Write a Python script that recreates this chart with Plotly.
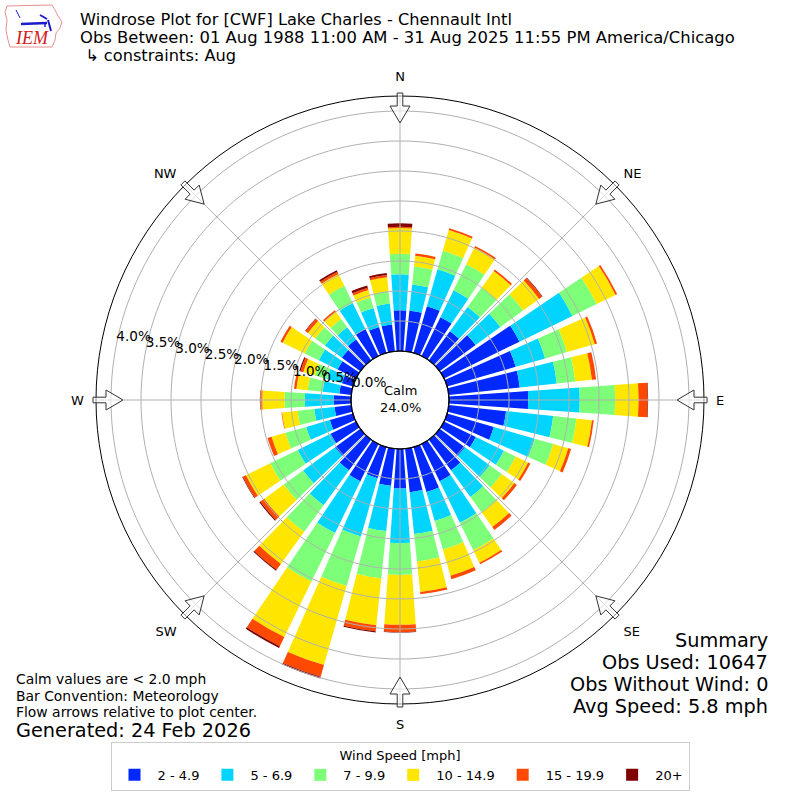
import math
import plotly.graph_objects as go

# wind directions (deg, meteorological) and percent frequency per speed bin
DIRS = list(range(0, 360, 10))
BIN_LABELS = ["2 - 4.9", "5 - 6.9", "7 - 9.9", "10 - 14.9", "15 - 19.9", "20+"]
BIN_COLORS = ["#0028ff", "#00d4ff", "#7dff7a", "#ffe600", "#ff4800", "#800000"]

S_2_5 = [0.68, 0.68, 0.81, 0.72, 0.60, 0.74, 1.40, 1.19, 1.19, 1.32, 0.96, 0.81,
         0.59, 0.52, 0.63, 0.69, 0.78, 0.73, 0.66, 0.62, 0.54, 0.69, 0.63, 0.52,
         0.47, 0.40, 0.28, 0.29, 0.20, 0.19, 0.34, 0.38, 0.43, 0.50, 0.45, 0.45]
S_5_7 = [0.60, 0.44, 0.64, 0.50, 0.50, 0.51, 0.98, 0.51, 0.62, 0.86, 0.79, 0.71,
         0.52, 0.51, 0.55, 0.77, 0.50, 0.70, 0.91, 0.76, 1.01, 0.96, 0.72, 0.66,
         0.61, 0.41, 0.34, 0.48, 0.28, 0.26, 0.35, 0.35, 0.25, 0.48, 0.33, 0.35]
S_7_10 = [0.34, 0.30, 0.32, 0.48, 0.40, 0.47, 0.45, 0.38, 0.31, 0.59, 0.39, 0.32,
          0.22, 0.25, 0.32, 0.51, 0.50, 0.46, 0.53, 0.79, 0.86, 0.90, 0.55, 0.40,
          0.51, 0.36, 0.28, 0.34, 0.25, 0.21, 0.26, 0.20, 0.17, 0.32, 0.18, 0.20]
S_10_15 = [0.43, 0.18, 0.36, 0.31, 0.34, 0.33, 0.35, 0.48, 0.28, 0.39, 0.26, 0.26,
           0.23, 0.26, 0.30, 0.23, 0.45, 0.51, 0.83, 0.79, 1.37, 1.03, 0.66, 0.40,
           0.45, 0.24, 0.26, 0.37, 0.19, 0.20, 0.41, 0.15, 0.15, 0.22, 0.13, 0.24]
S_15_20 = [0.02, 0.04, 0.03, 0.03, 0.03, 0.06, 0.03, 0.04, 0.07, 0.15, 0.03, 0.05,
           0.04, 0.05, 0.06, 0.03, 0.06, 0.04, 0.12, 0.10, 0.20, 0.17, 0.12, 0.08,
           0.06, 0.07, 0.01, 0.04, 0.04, 0.05, 0.04, 0.05, 0.03, 0.04, 0.04, 0.04]
S_20P = [0.06, 0, 0, 0, 0, 0.01, 0, 0, 0, 0.01, 0, 0,
         0, 0, 0, 0, 0, 0, 0.01, 0.02, 0.03, 0.03, 0.02, 0.02,
         0.01, 0, 0, 0, 0, 0.02, 0, 0.01, 0, 0.03, 0.04, 0.03]
SERIES = [S_2_5, S_5_7, S_7_10, S_10_15, S_15_20, S_20P]

RTICKS = [0.0, 0.5, 1.0, 1.5, 2.0, 2.5, 3.0, 3.5, 4.0]
RLABEL_DIR = 281  # compass direction of the radial tick labels
COMPASS = ["N", "NE", "E", "SE", "S", "SW", "W", "NW"]
COMPASS_DEG = [0, 45, 90, 135, 180, 225, 270, 315]

FONT = "DejaVu Sans"
W = H = 800
CX, CY, R_OUT, R_HOLE = 400, 400, 304, 49
R_MAX = 4.25


def px(x, y):
    return x / W, 1 - y / H


fig = go.Figure()

for vals, lab, col in zip(SERIES, BIN_LABELS, BIN_COLORS):
    fig.add_trace(go.Barpolar(
        r=vals, theta=DIRS, width=8, name=lab,
        marker=dict(color=col, line=dict(width=0)),
    ))

# grid drawn on top of the bars, like matplotlib
ring = list(range(0, 361, 2))
for v in RTICKS[1:]:
    fig.add_trace(go.Scatterpolar(r=[v] * len(ring), theta=ring, mode="lines",
                                  line=dict(color="#b0b0b0", width=1),
                                  showlegend=False, hoverinfo="skip"))
for d in COMPASS_DEG:
    fig.add_trace(go.Scatterpolar(r=[0, R_MAX], theta=[d, d], mode="lines",
                                  line=dict(color="#b0b0b0", width=1),
                                  showlegend=False, hoverinfo="skip"))

# radial tick labels, bottom-left anchored on the ray
fig.add_trace(go.Scatterpolar(
    r=RTICKS, theta=[RLABEL_DIR] * len(RTICKS), mode="text",
    text=[f"{v:.1f}%" for v in RTICKS], textposition="top right",
    textfont=dict(size=13.6, color="black", family=FONT),
    cliponaxis=False, showlegend=False, hoverinfo="skip"))

shapes = []
# calm circle outline
hx0, hy0 = px(CX - R_HOLE, CY - R_HOLE)
hx1, hy1 = px(CX + R_HOLE, CY + R_HOLE)
shapes.append(dict(type="circle", xref="paper", yref="paper", x0=hx0, x1=hx1,
                   y0=hy1, y1=hy0, line=dict(color="black", width=1.2)))

# hollow flow arrows at the compass points
for d in COMPASS_DEG:
    a = math.radians(d)
    ux, uy = math.sin(a), -math.cos(a)
    vx, vy = math.cos(a), math.sin(a)

    def pt(r, w):
        return px(CX + r * ux + w * vx, CY + r * uy + w * vy)

    pts = [pt(307, 2.8), pt(294, 2.8), pt(294, 10), pt(277, 0),
           pt(294, -10), pt(294, -2.8), pt(307, -2.8)]
    path = "M " + " L ".join(f"{x:.5f},{y:.5f}" for x, y in pts) + " Z"
    shapes.append(dict(type="path", xref="paper", yref="paper", path=path,
                       line=dict(color="#333333", width=1),
                       fillcolor="rgba(255,255,255,0.6)"))

# IEM logo (rough Iowa outline + wind barb)
iowa = [(7, 6), (52, 5), (55, 10), (58, 16), (62, 22), (60, 28), (56, 33), (55, 40),
        (52, 47), (10, 47), (8, 40), (6, 30), (7, 20), (5, 12)]
path = "M " + " L ".join("{:.5f},{:.5f}".format(*px(x, y)) for x, y in iowa) + " Z"
shapes.append(dict(type="path", xref="paper", yref="paper", path=path,
                   line=dict(color="#e89090", width=1)))
for seg, wd in [(((21, 24), (47, 23)), 2.5), (((40, 15), (47, 19)), 2),
                (((48, 20), (51, 31)), 2), (((16, 10), (20, 18)), 1),
                (((45, 23), (45, 27)), 1.5)]:
    (x0, y0), (x1, y1) = px(*seg[0]), px(*seg[1])
    shapes.append(dict(type="line", xref="paper", yref="paper", x0=x0, y0=y0,
                       x1=x1, y1=y1, line=dict(color="#1c1ccc", width=wd)))

annotations = []


def txt(s, x, y, size, xanchor="left", color="black", family=FONT):
    ax, ay = px(x, y)
    annotations.append(dict(text=s, x=ax, y=ay, xref="paper", yref="paper",
                            xanchor=xanchor, yanchor="middle", showarrow=False,
                            borderpad=0,
                            font=dict(size=size, color=color, family=family)))


txt("<i>IEM</i>", 32, 38, 18, xanchor="center", color="#d02020",
    family="Liberation Serif")

txt("Windrose Plot for [CWF] Lake Charles - Chennault Intl", 79, 19.5, 16.2)
txt("Obs Between: 01 Aug 1988 11:00 AM - 31 Aug 2025 11:55 PM America/Chicago", 79, 37.5, 16.4)
txt(" \u21b3 constraints: Aug", 79, 55.5, 16.2)

txt("Calm", CX, 390, 13, xanchor="center")
txt("24.0%", CX, 407, 13, xanchor="center")

txt("Calm values are < 2.0 mph", 15, 679, 13.9)
txt("Bar Convention: Meteorology", 15, 696, 13.9)
txt("Flow arrows relative to plot center.", 15, 712, 13.9)
txt("Generated: 24 Feb 2026", 15, 730, 19.3)

txt("Summary", 769, 640, 19.3, xanchor="right")
txt("Obs Used: 10647", 769, 662, 19.3, xanchor="right")
txt("Obs Without Wind: 0", 769, 684, 19.3, xanchor="right")
txt("Avg Speed: 5.8 mph", 769, 706, 19.3, xanchor="right")

d0 = (CX - R_OUT) / W
d1 = (CX + R_OUT) / W
fig.update_layout(
    width=W, height=H,
    margin=dict(l=0, r=0, t=0, b=0),
    paper_bgcolor="white",
    font=dict(family=FONT, size=13, color="black"),
    polar=dict(
        domain=dict(x=[d0, d1], y=[d0, d1]),
        hole=R_HOLE / R_OUT,
        bgcolor="white",
        barmode="stack",
        radialaxis=dict(range=[0, R_MAX], showgrid=False, showline=False,
                        ticks="", showticklabels=False),
        angularaxis=dict(rotation=90, direction="clockwise",
                         tickmode="array", tickvals=COMPASS_DEG, ticktext=COMPASS,
                         showgrid=False, showline=True, linecolor="black",
                         linewidth=1, ticks="outside", ticklen=9,
                         tickcolor="rgba(0,0,0,0)", tickfont=dict(size=13)),
    ),
    legend=dict(orientation="h", x=0.5, xanchor="center", y=1 - 742 / H,
                yanchor="top", bgcolor="white", bordercolor="#cccccc",
                borderwidth=1, font=dict(size=13), itemwidth=36,
                title=dict(text="Wind Speed [mph]", side="top center",
                           font=dict(size=13))),
    shapes=shapes,
    annotations=annotations,
)

fig.write_html("out.html", config={"displayModeBar": False},
               post_script="document.body.style.margin='0';")
